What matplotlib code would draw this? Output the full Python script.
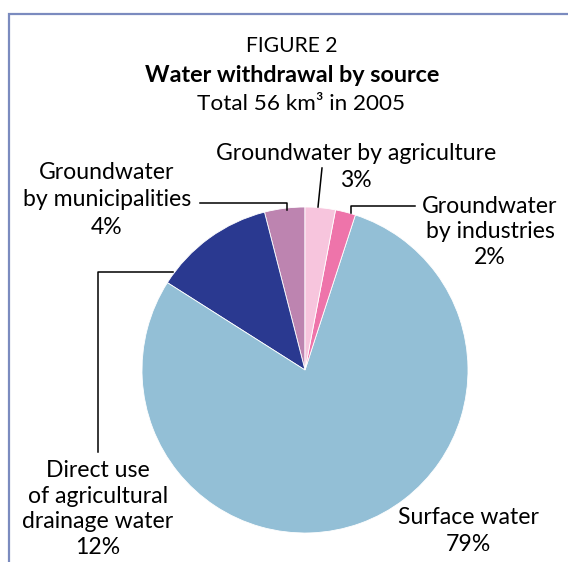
import matplotlib
matplotlib.use("Agg")
import matplotlib.pyplot as plt
import numpy as np

plt.rcParams['font.family'] = ['Lato', 'DejaVu Sans']

# slices counter-clockwise from 12 o'clock
labels = ["Groundwater\nby municipalities", "Direct use\nof agricultural\ndrainage water",
          "Surface water", "Groundwater\nby industries", "Groundwater by agriculture"]
shares = [4, 12, 79, 2, 3]
colors = ["#bd84b0", "#2a3990", "#93bfd6", "#ee74aa", "#f7c5dd"]

W, H = 568, 562
fig = plt.figure(figsize=(W / 100, H / 100), dpi=100)
ax = fig.add_axes([0, 0, 1, 1])


def Y(y):
    # image rows -> data y
    return H - y


cx, cy, r = 305, Y(370), 163
ax.pie(shares, colors=colors, startangle=90, counterclock=True,
       center=(cx, cy), radius=r, frame=True,
       wedgeprops=dict(linewidth=0.6, edgecolor='white'))
ax.set_xlim(0, W)
ax.set_ylim(0, H)
ax.set_aspect('equal')
ax.axis('off')

# frame on the left and top
ax.plot([8.5, 8.5, W], [0, Y(14), Y(14)], color="#7b8bbf", lw=1.6,
        solid_capstyle='butt', solid_joinstyle='miter')

# titles
ax.text(292, Y(46), "FIGURE 2", ha='center', va='center', fontsize=15.2)
ax.text(292, Y(76), "Water withdrawal by source", ha='center', va='center',
        fontsize=16.8, fontweight='bold')
ax.text(301, Y(104), "Total 56 km³ in 2005", ha='center', va='center', fontsize=16.2)

fs = 16.6
lab = ["%s\n%d%%" % (l, s) for l, s in zip(labels, shares)]

# label text
ax.text(107, Y(200), lab[0], ha='center', va='center', fontsize=fs, linespacing=1.38)
ax.text(98, Y(509), lab[1], ha='center', va='center', fontsize=fs, linespacing=1.27)
ax.text(468, Y(531), lab[2], ha='center', va='center', fontsize=fs, linespacing=1.35)
ax.text(490, Y(232), lab[3], ha='center', va='center', fontsize=fs, linespacing=1.29)
ax.text(356, Y(167), lab[4], ha='center', va='center', fontsize=fs, linespacing=1.4)

# leader lines
lk = dict(color='black', lw=1.1)
ax.plot([200, 287, 287], [Y(203), Y(203), Y(210)], **lk)
ax.plot([322, 318], [Y(168), Y(207)], **lk)
ax.plot([415, 351, 351], [Y(206), Y(206), Y(213)], **lk)
ax.plot([98, 98, 173], [Y(452), Y(272), Y(272)], **lk)

fig.savefig("out.png", dpi=100)
